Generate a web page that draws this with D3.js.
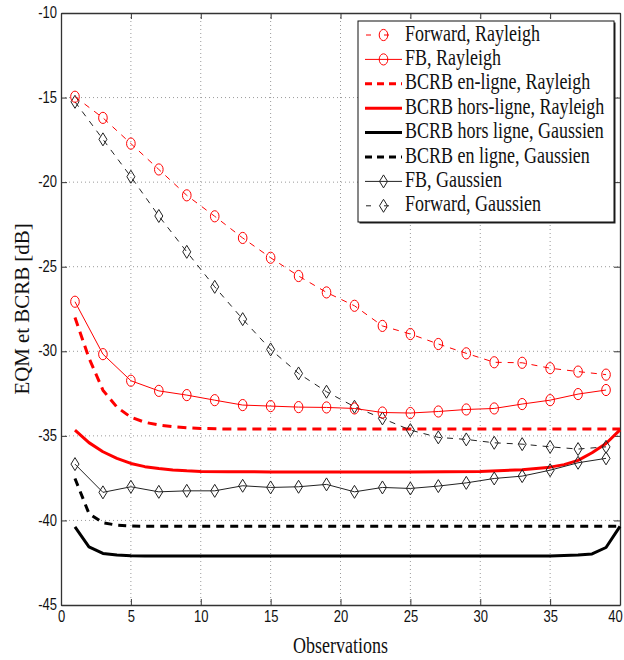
<!DOCTYPE html>
<html>
<head>
<meta charset="utf-8">
<script src="https://cdn.jsdelivr.net/npm/d3@7"></script>
<style>
  html, body { margin: 0; padding: 0; background: #fff; }
  svg { display: block; }
  .serif { font-family: "Liberation Serif", "DejaVu Serif", serif; }
  .sans { font-family: "Liberation Sans", "DejaVu Sans", sans-serif; }
</style>
</head>
<body>
<div id="chart"></div>
<script>
// ---------------- DATA ----------------
const obsMarkers = [1,3,5,7,9,11,13,15,17,19,21,23,25,27,29,31,33,35,37,39];
const forwardRayleigh = [-14.95,-16.2,-17.72,-19.25,-20.78,-22.02,-23.3,-24.47,-25.55,-26.52,-27.31,-28.5,-28.98,-29.57,-30.12,-30.65,-30.68,-31.0,-31.2,-31.38];
const fbRayleigh      = [-27.07,-30.17,-31.74,-32.34,-32.59,-32.89,-33.18,-33.24,-33.3,-33.32,-33.38,-33.62,-33.65,-33.56,-33.44,-33.38,-33.12,-32.89,-32.53,-32.29];
const forwardGaussian = [-15.25,-17.47,-19.68,-22.0,-24.12,-26.19,-28.1,-29.89,-31.31,-32.39,-33.28,-33.97,-34.66,-35.09,-35.21,-35.41,-35.49,-35.65,-35.78,-35.65];
const fbGaussian      = [-36.67,-38.34,-38.01,-38.31,-38.25,-38.25,-37.95,-38.05,-38.01,-37.87,-38.31,-38.05,-38.11,-37.97,-37.78,-37.52,-37.38,-37.03,-36.59,-36.33];

const obsBound = [1,2,3,4,5,6,7,8,9,10,12,15,20,25,30,33,35,36,37,38,39,40];
const bcrbEnLigneRayleigh   = [-28.0,-30.4,-32.3,-33.3,-33.9,-34.2,-34.36,-34.46,-34.52,-34.56,-34.6,-34.6,-34.6,-34.6,-34.6,-34.6,-34.6,-34.6,-34.6,-34.6,-34.6,-34.6];
const bcrbHorsLigneRayleigh = [-34.66,-35.4,-35.94,-36.33,-36.63,-36.82,-36.93,-37.02,-37.07,-37.1,-37.12,-37.13,-37.13,-37.13,-37.1,-37.0,-36.85,-36.7,-36.45,-36.0,-35.45,-34.65];
const bcrbHorsLigneGaussian = [-40.38,-41.56,-41.95,-42.05,-42.09,-42.1,-42.1,-42.1,-42.1,-42.1,-42.1,-42.1,-42.1,-42.1,-42.1,-42.1,-42.1,-42.08,-42.05,-41.98,-41.6,-40.35];
const bcrbEnLigneGaussian   = [-37.52,-39.59,-40.14,-40.28,-40.33,-40.35,-40.35,-40.35,-40.35,-40.35,-40.35,-40.35,-40.35,-40.35,-40.35,-40.35,-40.35,-40.35,-40.35,-40.35,-40.35,-40.35];

const xTicks = [0,5,10,15,20,25,30,35,40];
const yTicks = [-45,-40,-35,-30,-25,-20,-15,-10];
const xLabel = "Observations";
const yLabel = "EQM et BCRB [dB]";
const legendLabels = [
  "Forward, Rayleigh",
  "FB, Rayleigh",
  "BCRB en-ligne, Rayleigh",
  "BCRB hors-ligne, Rayleigh",
  "BCRB hors ligne, Gaussien",
  "BCRB en ligne, Gaussien",
  "FB, Gaussien",
  "Forward, Gaussien"
];

// ---------------- SETUP ----------------
const W = 624, H = 660;
const L = 61, R = 620, T = 13, B = 605;
const SY = 1.3; // vertical stretch of text in reference

const svg = d3.select("#chart").append("svg").attr("width", W).attr("height", H);
const x = d3.scaleLinear().domain([0, 40]).range([L, R]);
const y = d3.scaleLinear().domain([-45, -10]).range([B, T]);

// grid (dotted)
const grid = svg.append("g").attr("class", "grid");
grid.selectAll("line.gx").data(xTicks.filter(d => d > 0 && d < 40)).enter().append("line")
  .attr("x1", d => x(d)).attr("x2", d => x(d)).attr("y1", T).attr("y2", B)
  .attr("stroke", "#9a9a9a").attr("stroke-width", 1).attr("stroke-dasharray", "1,3");
grid.selectAll("line.gy").data(yTicks.filter(d => d > -45 && d < -10)).enter().append("line")
  .attr("x1", L).attr("x2", R).attr("y1", d => y(d)).attr("y2", d => y(d))
  .attr("stroke", "#9a9a9a").attr("stroke-width", 1).attr("stroke-dasharray", "1,3");

// axes
const axisColor = "#333";
const gxB = svg.append("g").attr("transform", `translate(0,${B})`)
  .call(d3.axisBottom(x).tickValues(xTicks).tickFormat(d3.format("d")).tickSizeInner(-6).tickSizeOuter(0).tickPadding(3));
const gxT = svg.append("g").attr("transform", `translate(0,${T})`)
  .call(d3.axisTop(x).tickValues(xTicks).tickFormat("").tickSizeInner(-6).tickSizeOuter(0));
const gyL = svg.append("g").attr("transform", `translate(${L},0)`)
  .call(d3.axisLeft(y).tickValues(yTicks).tickFormat(d3.format("d")).tickSizeInner(-6).tickSizeOuter(0).tickPadding(4));
const gyR = svg.append("g").attr("transform", `translate(${R},0)`)
  .call(d3.axisRight(y).tickValues(yTicks).tickFormat("").tickSizeInner(-6).tickSizeOuter(0));

[gxB, gxT, gyL, gyR].forEach(g => {
  g.select(".domain").attr("stroke", axisColor).attr("stroke-width", 1.3);
  g.selectAll(".tick line").attr("stroke", axisColor).attr("stroke-width", 1);
});
gxB.selectAll(".tick text")
  .attr("class", "sans").attr("font-family", null).attr("font-size", 13).attr("fill", "#111")
  .attr("y", 0).attr("dy", 0)
  .attr("transform", d => `translate(${d === 40 ? -5 : 0},${17}) scale(1,${SY})`)
  .text(d => String(d));
gyL.selectAll(".tick text")
  .attr("class", "sans").attr("font-family", null).attr("font-size", 13).attr("fill", "#111")
  .attr("x", 0).attr("dy", 0).attr("y", 0)
  .attr("transform", `translate(-4,${4.6}) scale(1,${SY})`)
  .text(d => (d < 0 ? "-" + Math.abs(d) : String(d)));

// axis labels
svg.append("text").attr("class", "serif")
  .attr("transform", `translate(${(L + R) / 2},${653}) scale(1,${SY})`)
  .attr("text-anchor", "middle").attr("font-size", 18).attr("fill", "#111")
  .text(xLabel);
svg.append("text").attr("class", "serif")
  .attr("transform", `translate(${29},${309}) rotate(-90) scale(1.1,1.1)`)
  .attr("text-anchor", "middle").attr("font-size", 19).attr("fill", "#111")
  .text(yLabel);

// ---------------- SERIES ----------------
const line = d3.line().x(d => x(d[0])).y(d => y(d[1]));
const plot = svg.append("g");

function addLine(xs, ys, color, width, dash) {
  plot.append("path").datum(xs.map((v, i) => [v, ys[i]]))
    .attr("d", line).attr("fill", "none").attr("stroke", color)
    .attr("stroke-width", width).attr("stroke-dasharray", dash || null)
    .attr("stroke-linejoin", "round");
}
function circleMarker(g, cx, cy, color) {
  g.append("ellipse").attr("cx", cx).attr("cy", cy).attr("rx", 4.3).attr("ry", 5.6)
    .attr("fill", "none").attr("stroke", color).attr("stroke-width", 1);
}
function diamondMarker(g, cx, cy, color) {
  g.append("path").attr("d", `M${cx},${cy - 6.5}L${cx + 4},${cy}L${cx},${cy + 6.5}L${cx - 4},${cy}Z`)
    .attr("fill", "none").attr("stroke", color).attr("stroke-width", 1);
}
function addMarkers(xs, ys, color, kind) {
  const g = plot.append("g");
  xs.forEach((v, i) => {
    if (kind === "o") circleMarker(g, x(v), y(ys[i]), color);
    else diamondMarker(g, x(v), y(ys[i]), color);
  });
}

const RED = "#ff0000", BLK = "#000000";
const styles = [
  { color: RED, width: 1, dash: "6,6", marker: "o" },
  { color: RED, width: 1, dash: null, marker: "o" },
  { color: RED, width: 3, dash: "9,6", marker: null },
  { color: RED, width: 3, dash: null, marker: null },
  { color: BLK, width: 3, dash: null, marker: null },
  { color: BLK, width: 3, dash: "8,6", marker: null },
  { color: "#222", width: 1, dash: null, marker: "d" },
  { color: "#222", width: 1, dash: "6,6", marker: "d" }
];

addLine(obsBound, bcrbHorsLigneGaussian, styles[4].color, styles[4].width, styles[4].dash);
addLine(obsBound, bcrbEnLigneGaussian, styles[5].color, styles[5].width, styles[5].dash);
addLine(obsBound, bcrbHorsLigneRayleigh, styles[3].color, styles[3].width, styles[3].dash);
addLine(obsBound, bcrbEnLigneRayleigh, styles[2].color, styles[2].width, styles[2].dash);
addLine(obsMarkers, fbGaussian, styles[6].color, styles[6].width, styles[6].dash);
addMarkers(obsMarkers, fbGaussian, styles[6].color, "d");
addLine(obsMarkers, forwardGaussian, styles[7].color, styles[7].width, styles[7].dash);
addMarkers(obsMarkers, forwardGaussian, styles[7].color, "d");
addLine(obsMarkers, fbRayleigh, styles[1].color, styles[1].width, styles[1].dash);
addMarkers(obsMarkers, fbRayleigh, styles[1].color, "o");
addLine(obsMarkers, forwardRayleigh, styles[0].color, styles[0].width, styles[0].dash);
addMarkers(obsMarkers, forwardRayleigh, styles[0].color, "o");

// ---------------- LEGEND ----------------
const lgX = 358, lgY = 21, lgW = 256, lgH = 201;
const leg = svg.append("g");
leg.append("rect").attr("x", lgX + 1.5).attr("y", lgY + 1.5).attr("width", lgW).attr("height", lgH)
  .attr("fill", "#222");
leg.append("rect").attr("x", lgX).attr("y", lgY).attr("width", lgW).attr("height", lgH)
  .attr("fill", "#fff").attr("stroke", "#111").attr("stroke-width", 1);
const rowY0 = 35, rowStep = 24.4;
legendLabels.forEach((lab, i) => {
  const st = styles[i];
  const cy = rowY0 + i * rowStep;
  leg.append("line").attr("x1", 365).attr("x2", 402).attr("y1", cy).attr("y2", cy)
    .attr("stroke", st.color).attr("stroke-width", st.width)
    .attr("stroke-dasharray", st.dash ? (st.width > 2 ? "7,5" : "5,13") : null)
    .attr("stroke-dashoffset", st.dash && st.width < 2 ? -1 : 0);
  if (st.marker === "o") circleMarker(leg, 383.5, cy, st.color);
  if (st.marker === "d") diamondMarker(leg, 383.5, cy, st.color);
  leg.append("text").attr("class", "serif")
    .attr("transform", `translate(405,${cy + 5.5}) scale(1,${SY})`)
    .attr("font-size", 18).attr("fill", "#111")
    .text(lab);
});
</script>
</body>
</html>
